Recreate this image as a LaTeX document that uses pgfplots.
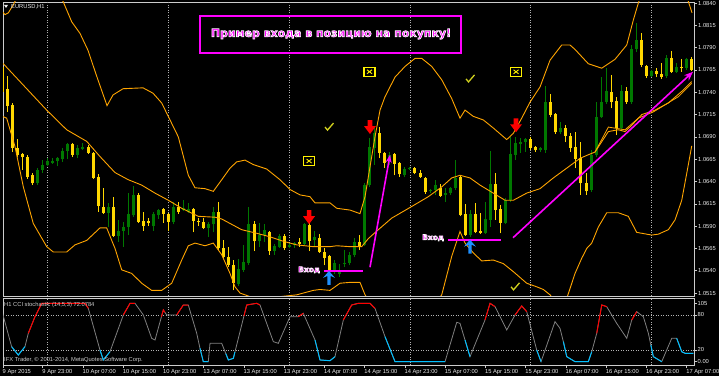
\documentclass[border=0pt]{standalone}
\usepackage{pgfplots}
\pgfplotsset{compat=1.18}
\usepackage{pgfplotstable}
\usepackage{fontspec}
\setmainfont{Liberation Sans}
\newfontfamily\djv{DejaVu Sans}
\usetikzlibrary{arrows.meta}
\definecolor{bull}{RGB}{0,120,0}
\definecolor{bear}{RGB}{255,215,0}
\definecolor{band}{RGB}{255,165,0}
\definecolor{mag}{RGB}{255,0,255}
\definecolor{upblue}{RGB}{30,144,255}
\definecolor{chk}{RGB}{210,210,30}
\definecolor{ired}{RGB}{255,0,0}
\definecolor{iblue}{RGB}{0,191,255}
\definecolor{igray}{RGB}{128,128,128}
\definecolor{lbl}{RGB}{235,235,235}
\newcommand\lab{\fontsize{5.8}{6.5}\selectfont}
\newcommand\outl[2]{\special{pdf:literal direct 2 Tr #1 w 1 1 1 RG}#2\special{pdf:literal direct 0 Tr}}
\pgfdeclareplotmark{dnarrow}{%
  \pgfpathmoveto{\pgfqpoint{-2.3pt}{7pt}}\pgfpathlineto{\pgfqpoint{2.3pt}{7pt}}%
  \pgfpathlineto{\pgfqpoint{2.3pt}{1pt}}\pgfpathlineto{\pgfqpoint{6pt}{1pt}}%
  \pgfpathlineto{\pgfqpoint{0pt}{-7pt}}\pgfpathlineto{\pgfqpoint{-6pt}{1pt}}%
  \pgfpathlineto{\pgfqpoint{-2.3pt}{1pt}}\pgfpathclose\pgfusepathqfill}
\pgfdeclareplotmark{uparrow}{%
  \pgfpathmoveto{\pgfqpoint{0pt}{7pt}}\pgfpathlineto{\pgfqpoint{6pt}{0pt}}%
  \pgfpathlineto{\pgfqpoint{1.6pt}{2pt}}\pgfpathlineto{\pgfqpoint{1.6pt}{-7pt}}%
  \pgfpathlineto{\pgfqpoint{-1.6pt}{-7pt}}\pgfpathlineto{\pgfqpoint{-1.6pt}{2pt}}%
  \pgfpathlineto{\pgfqpoint{-6pt}{0pt}}\pgfpathclose\pgfusepathqfill}
\pgfdeclareplotmark{checkm}{%
  \pgfsetlinewidth{1.3pt}%
  \pgfpathmoveto{\pgfqpoint{-4pt}{0pt}}\pgfpathlineto{\pgfqpoint{-1.5pt}{-3pt}}%
  \pgfpathlineto{\pgfqpoint{4.5pt}{4pt}}\pgfusepathqstroke}
\pgfdeclareplotmark{xbox}{%
  \pgfsetlinewidth{1.2pt}%
  \pgfpathrectangle{\pgfqpoint{-5.5pt}{-4.5pt}}{\pgfqpoint{11pt}{9pt}}\pgfusepathqstroke
  \pgfsetlinewidth{0.9pt}%
  \pgfpathmoveto{\pgfqpoint{-2.5pt}{-2pt}}\pgfpathlineto{\pgfqpoint{2.5pt}{2pt}}%
  \pgfpathmoveto{\pgfqpoint{-2.5pt}{2pt}}\pgfpathlineto{\pgfqpoint{2.5pt}{-2pt}}%
  \pgfusepathqstroke}

\pgfplotstableread{
i o h l c
0 1.0768 1.0778 1.0735 1.0740
1 1.0744 1.0758 1.0718 1.0725
2 1.0726 1.0728 1.0673 1.0678
3 1.0678 1.0688 1.0667 1.0670
4 1.0671 1.0672 1.0653 1.0667
5 1.0667 1.0670 1.0643 1.0645
6 1.0647 1.0650 1.0636 1.0638
7 1.0638 1.0655 1.0636 1.0653
8 1.0653 1.0664 1.0650 1.0659
9 1.0659 1.0666 1.0657 1.0663
10 1.0661 1.0666 1.0660 1.0663
11 1.0663 1.0667 1.0657 1.0666
12 1.0665 1.0678 1.0662 1.0674
13 1.0674 1.0683 1.0665 1.0682
14 1.0682 1.0683 1.0667 1.0670
15 1.0670 1.0681 1.0666 1.0678
16 1.0676 1.0683 1.0675 1.0679
17 1.0679 1.0681 1.0671 1.0672
18 1.0672 1.0673 1.0643 1.0644
19 1.0645 1.0648 1.0606 1.0613
20 1.0612 1.0633 1.0604 1.0605
21 1.0605 1.0616 1.0589 1.0612
22 1.0612 1.0623 1.0578 1.0579
23 1.0579 1.0597 1.0572 1.0585
24 1.0585 1.0595 1.0567 1.0589
25 1.0589 1.0627 1.0580 1.0604
26 1.0602 1.0635 1.0600 1.0625
27 1.0625 1.0627 1.0594 1.0595
28 1.0596 1.0606 1.0585 1.0590
29 1.0596 1.0599 1.0590 1.0594
30 1.0590 1.0606 1.0585 1.0604
31 1.0602 1.0609 1.0598 1.0608
32 1.0609 1.0610 1.0594 1.0604
33 1.0604 1.0605 1.0585 1.0595
34 1.0595 1.0617 1.0592 1.0612
35 1.0612 1.0617 1.0604 1.0606
36 1.0608 1.0619 1.0607 1.0610
37 1.0606 1.0616 1.0605 1.0609
38 1.0609 1.0610 1.0583 1.0596
39 1.0596 1.0599 1.0590 1.0595
40 1.0595 1.0599 1.0587 1.0588
41 1.0588 1.0595 1.0578 1.0592
42 1.0592 1.0612 1.0583 1.0606
43 1.0606 1.0617 1.0563 1.0566
44 1.0566 1.0574 1.0554 1.0555
45 1.0555 1.0567 1.0544 1.0546
46 1.0546 1.0552 1.0518 1.0526
47 1.0525 1.0553 1.0523 1.0542
48 1.0541 1.0569 1.0539 1.0550
49 1.0549 1.0612 1.0547 1.0592
50 1.0592 1.0596 1.0562 1.0573
51 1.0573 1.0594 1.0567 1.0580
52 1.0580 1.0592 1.0572 1.0586
53 1.0583 1.0584 1.0558 1.0562
54 1.0562 1.0570 1.0558 1.0568
55 1.0567 1.0581 1.0566 1.0579
56 1.0579 1.0581 1.0563 1.0566
57 1.0567 1.0571 1.0566 1.0569
58 1.0569 1.0572 1.0566 1.0571
59 1.0572 1.0577 1.0567 1.0570
60 1.0570 1.0594 1.0569 1.0592
61 1.0591 1.0594 1.0562 1.0573
62 1.0574 1.0584 1.0568 1.0578
63 1.0577 1.0581 1.0560 1.0561
64 1.0561 1.0566 1.0546 1.0554
65 1.0557 1.0558 1.0539 1.0540
66 1.0539 1.0552 1.0536 1.0549
67 1.0536 1.0548 1.0533 1.0540
68 1.0548 1.0563 1.0544 1.0549
69 1.0549 1.0561 1.0546 1.0558
70 1.0558 1.0577 1.0555 1.0572
71 1.0572 1.0580 1.0563 1.0568
72 1.0569 1.0638 1.0568 1.0636
73 1.0636 1.0689 1.0634 1.0679
74 1.0678 1.0700 1.0659 1.0694
75 1.0694 1.0701 1.0666 1.0672
76 1.0672 1.0673 1.0655 1.0661
77 1.0666 1.0673 1.0659 1.0670
78 1.0671 1.0672 1.0647 1.0660
79 1.0661 1.0662 1.0645 1.0648
80 1.0647 1.0656 1.0645 1.0654
81 1.0654 1.0656 1.0653 1.0655
82 1.0655 1.0656 1.0648 1.0650
83 1.0650 1.0653 1.0644 1.0645
84 1.0644 1.0645 1.0626 1.0628
85 1.0629 1.0632 1.0627 1.0630
86 1.0630 1.0642 1.0625 1.0636
87 1.0633 1.0637 1.0623 1.0624
88 1.0625 1.0633 1.0617 1.0627
89 1.0627 1.0634 1.0625 1.0633
90 1.0633 1.0664 1.0631 1.0644
91 1.0645 1.0647 1.0601 1.0602
92 1.0604 1.0615 1.0579 1.0580
93 1.0580 1.0608 1.0578 1.0604
94 1.0604 1.0616 1.0582 1.0583
95 1.0585 1.0605 1.0581 1.0582
96 1.0582 1.0617 1.0581 1.0598
97 1.0597 1.0674 1.0589 1.0637
98 1.0637 1.0650 1.0597 1.0608
99 1.0609 1.0614 1.0582 1.0594
100 1.0594 1.0622 1.0592 1.0619
101 1.0619 1.0690 1.0617 1.0671
102 1.0670 1.0690 1.0664 1.0683
103 1.0682 1.0689 1.0672 1.0684
104 1.0684 1.0689 1.0673 1.0688
105 1.0688 1.0690 1.0675 1.0678
106 1.0679 1.0680 1.0673 1.0675
107 1.0675 1.0679 1.0673 1.0678
108 1.0675 1.0747 1.0672 1.0729
109 1.0729 1.0738 1.0712 1.0715
110 1.0716 1.0717 1.0693 1.0695
111 1.0695 1.0707 1.0693 1.0700
112 1.0700 1.0703 1.0684 1.0691
113 1.0691 1.0694 1.0673 1.0678
114 1.0679 1.0695 1.0655 1.0665
115 1.0666 1.0684 1.0625 1.0638
116 1.0638 1.0650 1.0625 1.0629
117 1.0631 1.0675 1.0628 1.0670
118 1.0670 1.0729 1.0667 1.0712
119 1.0712 1.0757 1.0711 1.0729
120 1.0729 1.0767 1.0727 1.0741
121 1.0740 1.0759 1.0722 1.0729
122 1.0730 1.0735 1.0692 1.0700
123 1.0700 1.0748 1.0698 1.0742
124 1.0741 1.0746 1.0727 1.0729
125 1.0729 1.0793 1.0727 1.0789
126 1.0789 1.0818 1.0785 1.0799
127 1.0799 1.0806 1.0768 1.0771
128 1.0770 1.0771 1.0756 1.0758
129 1.0758 1.0765 1.0757 1.0764
130 1.0764 1.0767 1.0757 1.0760
131 1.0760 1.0773 1.0755 1.0757
132 1.0758 1.0782 1.0756 1.0778
133 1.0778 1.0786 1.0762 1.0763
134 1.0763 1.0773 1.0762 1.0768
135 1.0768 1.0777 1.0763 1.0767
136 1.0767 1.0778 1.0765 1.0777
137 1.0777 1.0780 1.0764 1.0765
}\candles

\begin{document}
\begin{tikzpicture}
\useasboundingbox (0,0) rectangle (719bp,376bp);
\fill[black] (0,0) rectangle (719bp,376bp);

\begin{axis}[at={(3bp,80bp)}, anchor=south west, scale only axis,
  width=691bp, height=294bp,
  xmin=0.1, xmax=137.47, ymin=1.05117, ymax=1.08412,
  axis line style={draw=white!80!black, line width=0.8bp},
  xtick=\empty,
  extra x ticks={9,33,57,81,105,129}, extra x tick labels={,,,,,},
  extra x tick style={grid=major, tick style={draw=none}},
  major grid style={draw=white!70!black, dash pattern=on 1bp off 1.5bp, line width=0.6bp},
  ytick={1.0515,1.0540,1.0565,1.0590,1.0615,1.0640,1.0665,1.0690,1.0715,1.0740,1.0765,1.0790,1.0815,1.0840},
  yticklabels={1.0515,1.0540,1.0565,1.0590,1.0615,1.0640,1.0665,1.0690,1.0715,1.0740,1.0765,1.0790,1.0815,1.0840},
  ytick pos=right, yticklabel pos=right,
  tick align=outside, major tick length=3bp,
  tick style={draw=white!80!black, line width=0.6bp},
  yticklabel style={font=\lab, text=lbl, inner sep=0pt, xshift=1bp},
]
% wicks
\addplot[bull, solid, line width=1bp, -, quiver={u=0, v={\thisrow{h}-\thisrow{l}}}]
  table[x=i, y expr={\thisrow{c}>=\thisrow{o} ? \thisrow{l} : nan}] {\candles};
\addplot[bear, solid, line width=1bp, -, quiver={u=0, v={\thisrow{h}-\thisrow{l}}}]
  table[x=i, y expr={\thisrow{c}<\thisrow{o} ? \thisrow{l} : nan}] {\candles};
% bodies
\addplot[bull, solid, line width=3bp, -, quiver={u=0, v={max(abs(\thisrow{c}-\thisrow{o}),0.00008)}}]
  table[x=i, y expr={\thisrow{c}>=\thisrow{o} ? \thisrow{o} : nan}] {\candles};
\addplot[bear, solid, line width=3bp, -, quiver={u=0, v={max(abs(\thisrow{c}-\thisrow{o}),0.00008)}}]
  table[x=i, y expr={\thisrow{c}<\thisrow{o} ? \thisrow{c} : nan}] {\candles};

% Bollinger bands
\addplot[band, line width=0.9bp] coordinates {
(0.04,1.0830)(0.50,1.0827)(1.15,1.0829)(2.15,1.0838)(2.49,1.0842)(5.47,1.0866)(9.44,1.0860)
(12.03,1.0842)(13.76,1.0819)(15.41,1.0806)(17.00,1.0787)(18.79,1.0757)(20.78,1.0725)
(21.97,1.0737)(23.96,1.0744)(27.93,1.0745)(29.92,1.0739)(31.65,1.0728)(33.30,1.0709)
(34.95,1.0690)(36.94,1.0647)(38.27,1.0633)(40.26,1.0632)(41.91,1.0629)(43.58,1.0642)
(45.23,1.0655)(46.56,1.0662)(48.21,1.0664)(49.86,1.0659)(52.52,1.0654)(55.17,1.0642)
(57.16,1.0631)(59.15,1.0625)(61.13,1.0623)(62.13,1.0616)(65.11,1.0616)(66.44,1.0610)
(69.09,1.0608)(71.07,1.0604)(72.07,1.0623)(74.05,1.0690)(75.05,1.0720)(76.04,1.0735)
(78.03,1.0757)(80.02,1.0769)(82.01,1.0778)(83.34,1.0778)(85.33,1.0769)(87.32,1.0754)
(89.30,1.0733)(90.95,1.0711)(91.95,1.0720)(93.60,1.0713)(95.59,1.0709)(97.57,1.0700)
(100.24,1.0687)(101.55,1.0694)(103.22,1.0711)(104.87,1.0729)(106.86,1.0746)(108.85,1.0776)
(111.17,1.0793)(112.82,1.0793)(113.82,1.0788)(116.46,1.0772)(119.13,1.0767)(121.77,1.0777)
(124.10,1.0793)(125.41,1.0821)(126.40,1.0840)(127.73,1.0860)(132.70,1.0871)(136.28,1.0843)
(137.08,1.0829)};
\addplot[band, line width=0.9bp] coordinates {
(0,1.0773)(8.79,1.0720)(12.76,1.0698)(16.74,1.0685)(19.38,1.0668)(22.37,1.0650)(25.01,1.0642)
(27.67,1.0636)(30.32,1.0627)(32.96,1.0619)(35.63,1.0610)(38.93,1.0601)(42.25,1.0600)
(43.58,1.0598)(45.23,1.0593)(47.55,1.0586)(50.54,1.0582)(53.18,1.0578)(55.83,1.0573)
(58.49,1.0569)(61.79,1.0567)(65.11,1.0567)(66.44,1.0568)(69.09,1.0567)(71.41,1.0567)
(72.72,1.0576)(74.71,1.0586)(77.38,1.0599)(81.35,1.0612)(84.65,1.0623)(87.32,1.0634)
(89.30,1.0644)(90.95,1.0647)(92.94,1.0644)(94.93,1.0636)(97.57,1.0627)(99.90,1.0619)
(101.55,1.0619)(104.21,1.0627)(106.86,1.0632)(109.50,1.0644)(112.17,1.0655)(114.81,1.0666)
(116.46,1.0670)(117.79,1.0673)(120.44,1.0696)(122.43,1.0698)(123.76,1.0696)(125.09,1.0703)
(127.08,1.0715)(129.72,1.0720)(132.37,1.0728)(135.03,1.0741)(137.02,1.0752)};
\addplot[band, line width=0.8bp] coordinates {
(117.79,1.0673)(120.44,1.0701)(123.76,1.0698)(126.40,1.0711)(129.38,1.0718)(131.71,1.0726)
(134.35,1.0735)(137.02,1.0750)};
\addplot[band, line width=0.9bp] coordinates {
(0,1.0713)(0.83,1.0711)(2.49,1.0679)(4.14,1.0634)(6.12,1.0593)(8.79,1.0567)(10.10,1.0561)
(12.76,1.0561)(14.41,1.0569)(16.74,1.0574)(19.38,1.0588)(20.72,1.0588)(21.71,1.0574)
(22.37,1.0565)(23.70,1.0541)(25.69,1.0537)(27.67,1.0526)(29.66,1.0518)(31.65,1.0518)
(33.64,1.0526)(35.63,1.0552)(36.94,1.0568)(38.27,1.0571)(40.26,1.0568)(41.91,1.0571)
(43.58,1.0558)(45.23,1.0537)(46.22,1.0522)(47.22,1.0515)(49.20,1.0511)(55.17,1.0511)
(58.49,1.0513)(61.79,1.0518)(63.12,1.0519)(65.11,1.0518)(67.10,1.0526)(69.09,1.0527)
(71.07,1.0527)(72.07,1.0513)(74.05,1.0496)(79.03,1.0474)(84.99,1.0496)(87.32,1.0513)
(89.30,1.0556)(90.95,1.0584)(91.95,1.0571)(93.60,1.0560)(95.27,1.0551)(97.57,1.0552)
(99.56,1.0548)(101.55,1.0539)(104.21,1.0526)(106.20,1.0522)(107.52,1.0519)(108.85,1.0513)
(110.44,1.0502)(112.17,1.0509)(113.82,1.0537)(115.15,1.0554)(116.14,1.0565)(117.14,1.0571)
(118.45,1.0589)(120.12,1.0605)(122.43,1.0605)(124.41,1.0601)(126.08,1.0583)(127.08,1.0582)
(129.07,1.0580)(130.38,1.0581)(132.37,1.0586)(133.70,1.0597)(135.03,1.0619)(136.02,1.0649)
(137.02,1.0680)};

% annotations
\addplot[mag, line width=2bp] coordinates {(63.92,1.0540)(71.67,1.0540)};
\addplot[mag, line width=2bp] coordinates {(88.57,1.0574)(99.11,1.0574)};
\addplot[mag, line width=1.6bp, -{Stealth[length=8bp,width=6bp]}] coordinates {(73.06,1.0544)(77.04,1.0670)};
\addplot[mag, line width=1.6bp, -{Stealth[length=9bp,width=7bp]}] coordinates {(101.49,1.0577)(137.28,1.0763)};
\addplot[only marks, mark=dnarrow, color=ired] coordinates {(60.94,1.0600)(73.06,1.0701)(102.09,1.0703)};
\addplot[only marks, mark=uparrow, color=upblue] coordinates {(64.91,1.0532)(92.94,1.0567)};
\addplot[only marks, mark=checkm, color=chk] coordinates {(64.91,1.0701)(92.94,1.0755)(101.89,1.0522)};
\addplot[only marks, mark=xbox, color=yellow] coordinates {(60.94,1.0663)(72.96,1.0763)(102.09,1.0763)};
\coordinate (v1) at (axis cs:60.94,1.0541);
\coordinate (v2) at (axis cs:85.59,1.0577);
\end{axis}

\begin{axis}[at={(3bp,11bp)}, anchor=south west, scale only axis,
  width=691bp, height=67bp,
  xmin=0.1, xmax=137.47, ymin=-5.7, ymax=109.1,
  axis line style={draw=white!80!black, line width=0.8bp},
  xtick={0.1,8,16,24,32,40,48,56,64,72,80,88,96,104,112,120,128,136},
  xticklabels={9 Apr 2015,9 Apr 23:00,10 Apr 07:00,10 Apr 15:00,10 Apr 23:00,13 Apr 07:00,13 Apr 15:00,13 Apr 23:00,14 Apr 07:00,14 Apr 15:00,14 Apr 23:00,15 Apr 07:00,15 Apr 15:00,15 Apr 23:00,16 Apr 07:00,16 Apr 15:00,16 Apr 23:00,17 Apr 07:00},
  xtick pos=bottom,
  xticklabel style={font=\lab, text=lbl, anchor=north west, inner sep=0pt, xshift=-0.5bp, yshift=-1.5bp},
  extra x ticks={9,33,57,81,105,129}, extra x tick labels={,,,,,},
  extra x tick style={grid=major, tick style={draw=none}},
  major grid style={draw=white!70!black, dash pattern=on 1bp off 1.5bp, line width=0.6bp},
  ytick={20,80}, yticklabels={20,80}, ymajorgrids,
  extra y ticks={0,100}, extra y tick labels={0.00,105}, extra y tick style={grid=none},
  ytick pos=right, yticklabel pos=right,
  tick align=outside, major tick length=2.5bp,
  tick style={draw=white!80!black, line width=0.6bp},
  yticklabel style={font=\lab, text=lbl, inner sep=0pt, xshift=1bp},
  unbounded coords=jump,
]
\addplot[igray, line width=0.8bp] coordinates {
(-0.17,88.6)(1.82,25.7)(3.14,11.4)(4.47,25.7)(5.13,48.6)(6.46,77.1)(7.79,100)(16.4,100)(17.06,91.4)
(19.38,20)(20.04,2.9)(21.37,17.1)(24.02,80)(25.35,100)(26.34,100)(28.0,80)(29.66,40)(30.32,37.1)
(31.97,88.6)(32.64,80)(34.63,80)(35.95,97.1)(36.94,97.1)(38.61,48.6)(39.26,22.9)(39.92,0)(40.91,0)
(41.25,31.4)(43.58,31.4)(44.9,2.9)(45.89,5.7)(48.55,97.1)(50.54,100)(51.19,97.1)(53.84,34.3)
(54.83,31.4)(57.16,77.1)(58.81,77.1)(59.8,82.9)(62.13,37.1)(63.12,2.9)(65.11,1.7)(66.1,8.6)
(67.76,71.4)(69.42,97.1)(70.74,100)(73.06,100)(74.05,91.4)(76.04,42.9)(78.03,0)(87.97,0)
(90.3,67.4)(90.95,65.7)(91.95,37.1)(92.94,8.6)(95.92,71.4)(96.92,100)(97.91,94.3)(100.24,54.3)
(101.89,80)(103.22,95.4)(104.21,85.7)(106.2,20)(107.06,0)(109.84,68.6)(110.83,57.1)(111.5,34.3)
(112.17,8.6)(113.82,0)(116.46,0)(117.14,17.1)(118.13,48.6)(119.13,97.1)(120.12,94.3)(122.1,65.7)
(124.1,40)(125.09,71.4)(126.08,85.7)(127.4,77.1)(128.4,48.6)(129.38,8.6)(131.05,0)(133.04,40)
(134.03,40)(135.03,17.1)(135.69,14.3)(137.35,14.3)};
\addplot[ired, line width=1bp] coordinates {
(5.13,48.6)(6.46,77.1)(7.79,100)(16.4,100)(17.06,91.4)(17.1,nan)
(24.02,80)(25.35,100)(26.34,100)(26.4,nan)
(31.6,77)(31.97,88.6)(32.3,84.4)(32.4,nan)
(34.63,80)(35.95,97.1)(36.94,97.1)(37,nan)
(48.0,78.2)(48.55,97.1)(50.54,100)(51.19,97.1)(51.2,nan)
(58.81,77.1)(59.8,82.9)(59.9,nan)
(67.76,71.4)(69.42,97.1)(70.74,100)(73.06,100)(74.05,91.4)(74.1,nan)
(95.92,71.4)(96.92,100)(97.91,94.3)(98,nan)
(101.89,80)(103.22,95.4)(104.21,85.7)(104.3,nan)
(118.13,48.6)(119.13,97.1)(120.12,94.3)(120.2,nan)
(125.09,71.4)(126.08,85.7)};
\addplot[iblue, line width=1bp] coordinates {
(1.82,25.7)(3.14,11.4)(4.47,25.7)(4.5,nan)
(19.38,20)(20.04,2.9)(21.37,17.1)(21.4,nan)
(39.26,22.9)(39.92,0)(40.91,0)(41,nan)
(44.4,13.7)(44.9,2.9)(45.89,5.7)(46.2,16.4)(46.3,nan)
(62.13,37.1)(63.12,2.9)(65.11,1.7)(66.1,8.6)(66.2,nan)
(76.04,42.9)(78.03,0)(87.97,0)(88,nan)
(91.95,37.1)(92.94,8.6)(93,nan)
(106.2,20)(107.06,0)(107.1,nan)
(111.5,34.3)(112.17,8.6)(113.82,0)(116.46,0)(117.14,17.1)(117.2,nan)
(128.9,28.2)(129.38,8.6)(131.05,0)(131.1,nan)
(134.03,40)(135.03,17.1)(135.69,14.3)(137.35,14.3)};
\end{axis}

% texts
\fill[lbl] (4bp,371bp) -- (8bp,371bp) -- (6bp,368bp) -- cycle;
\node[anchor=west, inner sep=0pt, font=\lab, text=lbl] at (11bp,369.5bp) {EURUSD,H1};
\node[anchor=west, inner sep=0pt, font=\lab, text=white!80!black] at (4bp,71bp) {H1 CCI stochastic (14,5,3) 72.0784};
\node[anchor=west, inner sep=0pt, font=\lab, text=white!80!black] at (4bp,16bp) {IFX Trader, © 2001-2014, MetaQuotes Software Corp.};
\draw[mag, line width=2bp] (200bp,360.3bp) rectangle (460.5bp,322.7bp);
\node[text=mag, inner sep=0pt, font={\djv\bfseries\fontsize{11}{12}\selectfont}] at (331bp,342bp) {\outl{0.7}{Пример входа в позицию на покупку!}};
\node[text=mag, inner sep=0pt, font={\djv\bfseries\fontsize{7.5}{8}\selectfont}] at (v1) {\outl{0.6}{Вход}};
\node[text=mag, inner sep=0pt, font={\djv\bfseries\fontsize{7.5}{8}\selectfont}] at (v2) {\outl{0.6}{Вход}};
\end{tikzpicture}
\end{document}
